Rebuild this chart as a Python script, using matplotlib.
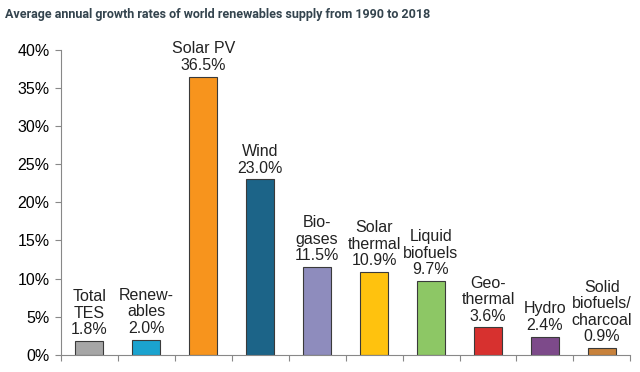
import numpy as np
import matplotlib.pyplot as plt

plt.rcParams['font.family'] = ['Liberation Sans', 'DejaVu Sans']

labels = ["Total\nTES", "Renew-\nables", "Solar PV", "Wind", "Bio-\ngases",
          "Solar\nthermal", "Liquid\nbiofuels", "Geo-\nthermal", "Hydro",
          "Solid\nbiofuels/\ncharcoal"]
rates = [1.8, 2.0, 36.5, 23.0, 11.5, 10.9, 9.7, 3.6, 2.4, 0.9]
colors = ["#a6a6a6", "#1ba3cf", "#f7941d", "#1c6488", "#8e8cbd",
          "#ffc20e", "#8dc765", "#d7312f", "#7d4a8a", "#c8823c"]

fig = plt.figure(figsize=(6.4, 3.72), dpi=100)
ax = fig.add_axes([0.095, 0.046, 0.89, 0.82])

x = np.arange(len(rates))
ax.bar(x, rates, width=0.49, color=colors, edgecolor="#3a3a3a", linewidth=0.8)
for xi, v, lab in zip(x, rates, labels):
    ax.text(xi, v + 0.5, lab + "\n%.1f%%" % v, ha="center", va="bottom",
            fontsize=11.5, color="#222222", linespacing=1.12)

ax.set_xlim(-0.5, len(rates) - 0.5)
ax.set_ylim(0, 40)
ax.set_yticks(np.arange(0, 41, 5))
ax.set_yticklabels(["%d%%" % t for t in range(0, 41, 5)], fontsize=11.5)
ax.set_xticks(np.arange(-0.5, len(rates), 1))
ax.set_xticklabels([])
ax.tick_params(axis="x", length=4, color="#888888")
ax.tick_params(axis="y", length=4, color="#888888", pad=4)
for s in ["top", "right"]:
    ax.spines[s].set_visible(False)
ax.spines["left"].set_color("#888888")
ax.spines["bottom"].set_color("#888888")

fig.text(0.008, 0.962, "Average annual growth rates of world renewables supply from 1990 to 2018",
         fontsize=9.0, color="#34444e", ha="left", va="center",
         family=["Roboto", "DejaVu Sans"], weight="bold")

fig.savefig("out.png", dpi=100)
